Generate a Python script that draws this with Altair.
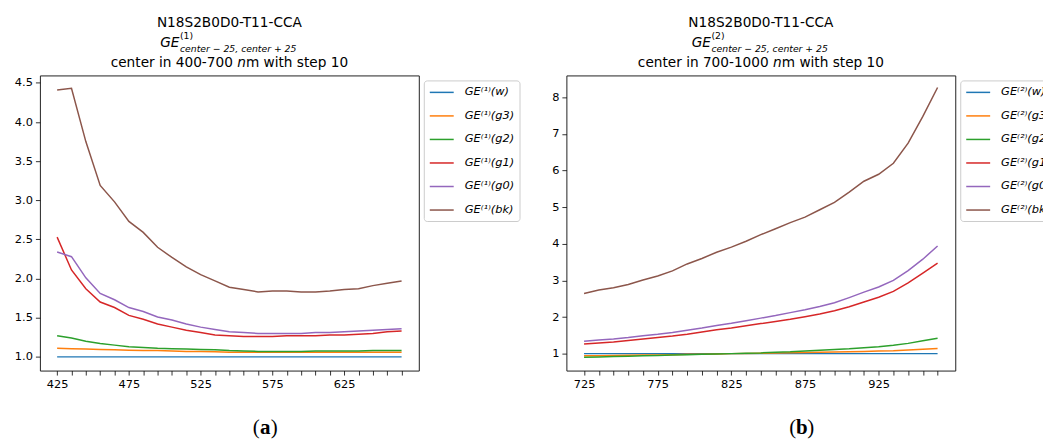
import altair as alt
import pandas as pd

# ---------------- data ----------------
SERIES = ["w", "g3", "g2", "g1", "g0", "bk"]
COLORS = ["#1f77b4", "#ff7f0e", "#2ca02c", "#d62728", "#9467bd", "#8c564b"]

X_A = [425, 435, 445, 455, 465, 475, 485, 495, 505, 515, 525, 535, 545,
       555, 565, 575, 585, 595, 605, 615, 625, 635, 645, 655, 665]
A_W = [1.0, 1.0, 1.0, 1.0, 1.0, 1.0, 1.0, 1.0, 1.0, 1.0, 1.0, 1.0, 1.0,
       1.0, 1.0, 1.0, 1.0, 1.0, 1.0, 1.0, 1.0, 1.0, 1.0, 1.0, 1.0]
A_G3 = [1.11, 1.105, 1.10, 1.095, 1.09, 1.085, 1.08, 1.08, 1.075, 1.07, 1.07, 1.065, 1.06,
        1.06, 1.06, 1.06, 1.06, 1.06, 1.06, 1.06, 1.06, 1.06, 1.06, 1.06, 1.06]
A_G2 = [1.27, 1.24, 1.20, 1.17, 1.15, 1.13, 1.12, 1.11, 1.105, 1.10, 1.095, 1.09, 1.08,
        1.075, 1.07, 1.07, 1.07, 1.07, 1.075, 1.075, 1.075, 1.075, 1.08, 1.08, 1.08]
A_G1 = [2.53, 2.11, 1.87, 1.70, 1.63, 1.53, 1.48, 1.42, 1.38, 1.34, 1.31, 1.28, 1.27,
        1.26, 1.26, 1.26, 1.27, 1.27, 1.27, 1.28, 1.28, 1.29, 1.30, 1.32, 1.33]
A_G0 = [2.34, 2.28, 2.01, 1.81, 1.73, 1.63, 1.58, 1.51, 1.47, 1.42, 1.38, 1.35, 1.32,
        1.31, 1.30, 1.30, 1.30, 1.30, 1.31, 1.31, 1.32, 1.33, 1.34, 1.35, 1.36]
A_BK = [4.41, 4.43, 3.75, 3.19, 2.98, 2.73, 2.59, 2.40, 2.27, 2.15, 2.05, 1.97, 1.89,
        1.86, 1.83, 1.84, 1.84, 1.83, 1.83, 1.84, 1.86, 1.87, 1.91, 1.94, 1.97]

X_B = [725, 735, 745, 755, 765, 775, 785, 795, 805, 815, 825, 835, 845,
       855, 865, 875, 885, 895, 905, 915, 925, 935, 945, 955, 965]
B_W = [1.0, 1.0, 1.0, 1.0, 1.0, 1.0, 1.0, 1.0, 1.0, 1.0, 1.0, 1.0, 1.0,
       1.0, 1.0, 1.0, 1.0, 1.0, 1.0, 1.0, 1.0, 1.0, 1.0, 1.0, 1.0]
B_G3 = [0.94, 0.945, 0.95, 0.955, 0.96, 0.965, 0.97, 0.98, 0.985, 0.99, 1.00, 1.005, 1.01,
        1.02, 1.025, 1.03, 1.04, 1.045, 1.05, 1.06, 1.07, 1.08, 1.10, 1.12, 1.14]
B_G2 = [0.90, 0.91, 0.92, 0.93, 0.94, 0.95, 0.96, 0.97, 0.98, 0.99, 1.00, 1.01, 1.02,
        1.04, 1.05, 1.07, 1.09, 1.11, 1.13, 1.16, 1.19, 1.23, 1.28, 1.35, 1.42]
B_G1 = [1.26, 1.29, 1.32, 1.36, 1.40, 1.44, 1.48, 1.53, 1.59, 1.65, 1.70, 1.76, 1.82,
        1.88, 1.94, 2.01, 2.08, 2.17, 2.28, 2.41, 2.54, 2.70, 2.93, 3.20, 3.47]
B_G0 = [1.34, 1.37, 1.40, 1.44, 1.49, 1.53, 1.58, 1.64, 1.70, 1.77, 1.83, 1.90, 1.97,
        2.04, 2.12, 2.20, 2.29, 2.39, 2.53, 2.68, 2.82, 3.00, 3.27, 3.58, 3.94]
B_BK = [2.64, 2.74, 2.80, 2.89, 3.01, 3.12, 3.26, 3.45, 3.60, 3.77, 3.91, 4.07, 4.25,
        4.41, 4.58, 4.73, 4.93, 5.13, 5.41, 5.71, 5.90, 6.20, 6.75, 7.48, 8.27]

Y_TICKS_A = [1.0, 1.5, 2.0, 2.5, 3.0, 3.5, 4.0, 4.5]
Y_TICKS_B = [1, 2, 3, 4, 5, 6, 7, 8]

TITLE_TOP = "N18S2B0D0-T11-CCA"
GE_SUB = "center \u2212 25, center + 25"
LINE3_A = ["center in 400-700", "n", "m with step 10"]
LINE3_B = ["center in 700-1000", "n", "m with step 10"]
SUP1 = "\u207d\u00b9\u207e"
SUP2 = "\u207d\u00b2\u207e"
SUPTXT1 = "(1)"
SUPTXT2 = "(2)"

ONE = pd.DataFrame({"k": [0]})
TF = "DejaVu Sans"
TS = 13.7


def txt(s, x, y, size, font=TF, align="center", baseline="middle",
        style="normal", weight="normal"):
    return alt.Chart(ONE).mark_text(
        text=s, fontSize=size, font=font, align=align, baseline=baseline,
        fontStyle=style, fontWeight=weight, color="black"
    ).encode(x=alt.value(x), y=alt.value(y))


def panel(xs, series, sup, suptxt, xdom, ydom, yvals, yfmt, width, height,
          line3, l3shift, tag, tag_x):
    labels = ["GE" + sup + "(" + k + ")" for k in SERIES]
    rows = []
    for lab, vals in zip(labels, series):
        for x, v in zip(xs, vals):
            rows.append({"x": x, "v": v, "s": lab})
    df = pd.DataFrame(rows)
    x0 = xs[0]
    lines = alt.Chart(df).mark_line(strokeWidth=1.5, clip=True).encode(
        x=alt.X("x:Q", scale=alt.Scale(domain=xdom, nice=False, zero=False),
                axis=alt.Axis(values=xs, title=None, labelOverlap=False, labelFlush=False,
                              labelExpr="(datum.value - %d) %% 50 == 0 ? datum.label : ''" % x0)),
        y=alt.Y("v:Q", scale=alt.Scale(domain=ydom, nice=False, zero=False),
                axis=alt.Axis(values=yvals, format=yfmt, title=None, minExtent=26)),
        color=alt.Color("s:N", sort=labels,
                        scale=alt.Scale(domain=labels, range=COLORS),
                        legend=alt.Legend(title=None, orient="none",
                                          legendX=width + 5, legendY=5)),
    )
    cx = width / 2
    jx = cx - 50
    lx = cx + l3shift
    texts = [
        txt(TITLE_TOP, cx, -53, TS),
        txt("GE", jx, -29, TS, align="right", baseline="alphabetic", style="italic"),
        txt(suptxt, jx + 0.5, -37, 9.3, align="left", baseline="alphabetic"),
        txt(GE_SUB, jx + 0.5, -23.5, 9.3, align="left", baseline="alphabetic", style="italic"),
        txt(line3[0], lx - 4.4, -12, TS, align="right"),
        txt(line3[1], lx, -12, TS, align="left", style="italic"),
        txt(line3[2], lx + 8.7, -12, TS, align="left"),
        txt("(", tag_x - 5.5, 359.5, 21, font="Liberation Serif", align="right", baseline="alphabetic"),
        txt(tag, tag_x, 359.5, 21, font="Liberation Serif", baseline="alphabetic", weight="bold"),
        txt(")", tag_x + 5.5, 359.5, 21, font="Liberation Serif", align="left", baseline="alphabetic"),
    ]
    return alt.layer(lines, *texts).properties(width=width, height=height)


chart_a = panel(X_A, [A_W, A_G3, A_G2, A_G1, A_G0, A_BK], SUP1, SUPTXT1,
                [413, 677], [0.825, 4.595], Y_TICKS_A, ".1f", 380, 296, LINE3_A, 7.9, "a", 226)
chart_b = panel(X_B, [B_W, B_G3, B_G2, B_G1, B_G0, B_BK], SUP2, SUPTXT2,
                [713, 977], [0.537, 8.6], Y_TICKS_B, "d", 390, 296, LINE3_B, 12.3, "b", 236)

chart = alt.hconcat(chart_a, chart_b, spacing=148, bounds="flush").resolve_scale(
    color="independent", x="independent", y="independent"
).resolve_legend(color="independent").properties(
    padding={"left": 5, "top": 6, "right": -14, "bottom": 0},
    background="white",
).configure_view(
    stroke="#222222", strokeWidth=1
).configure_axis(
    domain=False, grid=False, labelFont=TF, labelFontSize=11.4, labelColor="black",
    tickColor="black", tickSize=4.5, tickWidth=0.8, labelPadding=3,
).configure_legend(
    labelFont=TF, labelFontStyle="italic", labelFontSize=11.4, labelColor="black",
    symbolType="M-2,0L2,0", symbolStrokeWidth=1.5, symbolSize=144, symbolOffset=6,
    labelOffset=16, rowPadding=10.6, padding=5, strokeColor="#cccccc", cornerRadius=3,
    fillColor="white",
)

chart.save("out.html", embed_options={"renderer": "svg", "actions": False})
